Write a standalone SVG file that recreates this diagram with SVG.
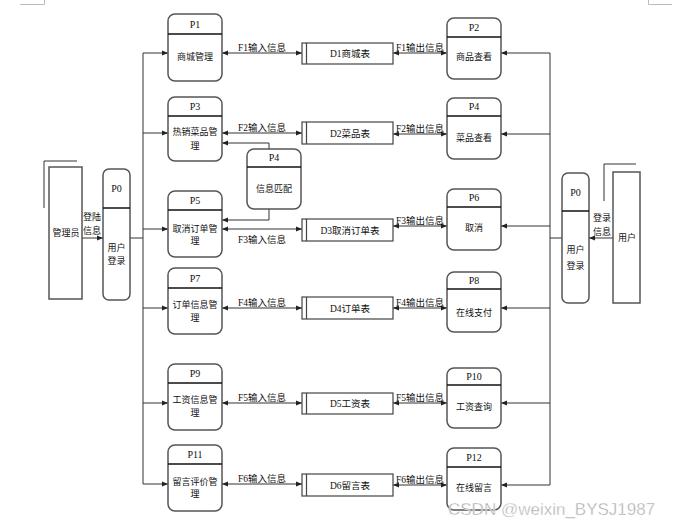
<svg xmlns="http://www.w3.org/2000/svg" width="688" height="526" viewBox="0 0 688 526">
<defs>
<marker id="ah" viewBox="0 0 6 6" refX="6" refY="3" markerWidth="6" markerHeight="6" orient="auto-start-reverse" markerUnits="userSpaceOnUse"><path d="M0,0.6 L6,3 L0,5.4 z" fill="#222"/></marker>
<style>
.pbox{fill:#fff;stroke:#555;stroke-width:1.5}
.div{stroke:#111;stroke-width:1.5}
.ds{fill:#fff;stroke:#444;stroke-width:1.2}
.ttl{font-family:"Liberation Serif","Noto Sans CJK SC",serif;font-size:10px;fill:#111;text-anchor:middle}
.cn{font-family:"Liberation Serif","Noto Sans CJK SC",serif;font-size:9px;fill:#111;text-anchor:middle}
.lbl{font-family:"Liberation Serif","Noto Sans CJK SC",serif;font-size:9.5px;fill:#111;text-anchor:middle}
.ln{fill:none;stroke:#333;stroke-width:1}
.arr{fill:none;stroke:#333;stroke-width:1;marker-end:url(#ah)}
.bi{fill:none;stroke:#333;stroke-width:1;marker-end:url(#ah);marker-start:url(#ah)}
.mark{fill:none;stroke:#bbb;stroke-width:1}
</style>
</defs>
<rect width="688" height="526" fill="#fff"/>
<path class="mark" d="M20,4.5 H44.5 V0"/>
<path class="mark" d="M648.5,0 V4.5 H672"/>

<g id="connectors">
<path class="ln" d="M143,53 V484"/>
<path class="arr" d="M143,53 H168"/>
<path class="arr" d="M143,133 H168"/>
<path class="arr" d="M143,229 H168"/>
<path class="arr" d="M143,308 H168"/>
<path class="arr" d="M143,403 H168"/>
<path class="arr" d="M143,484 H168"/>
<path class="ln" d="M130,238 H143"/>
<path class="arr" d="M82,238 H103"/>
<path class="ln" d="M550,53 V485"/>
<path class="arr" d="M550,53 H501"/>
<path class="arr" d="M550,134 H501"/>
<path class="arr" d="M550,226 H501"/>
<path class="arr" d="M550,308 H501"/>
<path class="arr" d="M550,403 H501"/>
<path class="arr" d="M550,485 H501"/>
<path class="ln" d="M562,238 H550"/>
<path class="arr" d="M613,238 H589"/>
<path class="bi" d="M222,53 H302"/>
<path class="bi" d="M393,53 H447"/>
<path class="bi" d="M222,133 H302"/>
<path class="bi" d="M393,134 H447"/>
<path class="bi" d="M222,229 H302"/>
<path class="bi" d="M393,226 H447"/>
<path class="bi" d="M222,308 H302"/>
<path class="bi" d="M393,308 H447"/>
<path class="bi" d="M222,403 H302"/>
<path class="bi" d="M393,403 H447"/>
<path class="bi" d="M222,484 H302"/>
<path class="bi" d="M393,485 H447"/>
<path class="arr" d="M269,149 V143 H222"/>
<path class="arr" d="M269,209 V220 H222"/>
<text class="lbl" x="262" y="51">F1输入信息</text>
<text class="lbl" x="420" y="51">F1输出信息</text>
<text class="lbl" x="262" y="131">F2输入信息</text>
<text class="lbl" x="420" y="132">F2输出信息</text>
<text class="lbl" x="262" y="243">F3输入信息</text>
<text class="lbl" x="420" y="224">F3输出信息</text>
<text class="lbl" x="262" y="306">F4输入信息</text>
<text class="lbl" x="420" y="306">F4输出信息</text>
<text class="lbl" x="262" y="401">F5输入信息</text>
<text class="lbl" x="420" y="401">F5输出信息</text>
<text class="lbl" x="262" y="482">F6输入信息</text>
<text class="lbl" x="420" y="483">F6输出信息</text>
<text class="cn" x="92" y="220">登陆</text>
<text class="cn" x="92" y="234">信息</text>
<text class="cn" x="602" y="221">登录</text>
<text class="cn" x="602" y="235">信息</text>
</g>

<g id="admin">
<path class="ln" d="M44,208 V161 H77" stroke="#222"/>
<rect x="49" y="167" width="33" height="132" fill="#fff" stroke="#555" stroke-width="1.5"/>
<text class="cn" x="66" y="236">管理员</text>
</g>
<g id="user">
<path class="ln" d="M604,201 V164 H636" stroke="#222"/>
<rect x="613" y="172" width="27" height="131" fill="#fff" stroke="#555" stroke-width="1.5"/>
<text class="cn" x="627" y="241">用户</text>
</g>

<g id="P0L">
<rect class="pbox" x="103" y="169" width="27" height="131" rx="6"/>
<line class="div" x1="103" y1="208" x2="130" y2="208"/>
<text class="ttl" x="116.5" y="192">P0</text>
<text class="cn" x="116.5" y="251">用户</text>
<text class="cn" x="116.5" y="264">登录</text>
</g>
<g id="P0R">
<rect class="pbox" x="562" y="173" width="27" height="130" rx="6"/>
<line class="div" x1="562" y1="211" x2="589" y2="211"/>
<text class="ttl" x="575.5" y="196">P0</text>
<text class="cn" x="575.5" y="253">用户</text>
<text class="cn" x="575.5" y="269">登录</text>
</g>

<g id="P1">
<rect class="pbox" x="168" y="14" width="54" height="67" rx="7"/>
<line class="div" x1="168" y1="34" x2="222" y2="34"/>
<text class="ttl" x="195" y="28">P1</text>
<text class="cn" x="195" y="60">商城管理</text>
</g>
<g id="P3">
<rect class="pbox" x="168" y="97" width="54" height="64" rx="7"/>
<line class="div" x1="168" y1="116" x2="222" y2="116"/>
<text class="ttl" x="195" y="110">P3</text>
<text class="cn" x="195" y="135">热销菜品管</text>
<text class="cn" x="195" y="149">理</text>
</g>
<g id="P5">
<rect class="pbox" x="168" y="191" width="54" height="66" rx="7"/>
<line class="div" x1="168" y1="210" x2="222" y2="210"/>
<text class="ttl" x="195" y="204">P5</text>
<text class="cn" x="195" y="232">取消订单管</text>
<text class="cn" x="195" y="244">理</text>
</g>
<g id="P7">
<rect class="pbox" x="168" y="268" width="54" height="66" rx="7"/>
<line class="div" x1="168" y1="288" x2="222" y2="288"/>
<text class="ttl" x="195" y="282">P7</text>
<text class="cn" x="195" y="308">订单信息管</text>
<text class="cn" x="195" y="321">理</text>
</g>
<g id="P9">
<rect class="pbox" x="168" y="364" width="54" height="66" rx="7"/>
<line class="div" x1="168" y1="383" x2="222" y2="383"/>
<text class="ttl" x="195" y="377">P9</text>
<text class="cn" x="195" y="403">工资信息管</text>
<text class="cn" x="195" y="416">理</text>
</g>
<g id="P11">
<rect class="pbox" x="168" y="445" width="54" height="66" rx="7"/>
<line class="div" x1="168" y1="464" x2="222" y2="464"/>
<text class="ttl" x="195" y="458">P11</text>
<text class="cn" x="195" y="485">留言评价管</text>
<text class="cn" x="195" y="497">理</text>
</g>
<g id="P4mid">
<rect class="pbox" x="247" y="149" width="54" height="60" rx="7"/>
<line class="div" x1="247" y1="167" x2="301" y2="167"/>
<text class="ttl" x="274" y="161">P4</text>
<text class="cn" x="274" y="192">信息匹配</text>
</g>

<g id="P2">
<rect class="pbox" x="447" y="18" width="54" height="61" rx="7"/>
<line class="div" x1="447" y1="37" x2="501" y2="37"/>
<text class="ttl" x="474" y="31">P2</text>
<text class="cn" x="474" y="60">商品查看</text>
</g>
<g id="P4">
<rect class="pbox" x="447" y="98" width="54" height="61" rx="7"/>
<line class="div" x1="447" y1="116" x2="501" y2="116"/>
<text class="ttl" x="474" y="110">P4</text>
<text class="cn" x="474" y="141">菜品查看</text>
</g>
<g id="P6">
<rect class="pbox" x="447" y="189" width="54" height="61" rx="7"/>
<line class="div" x1="447" y1="207" x2="501" y2="207"/>
<text class="ttl" x="474" y="201">P6</text>
<text class="cn" x="474" y="231">取消</text>
</g>
<g id="P8">
<rect class="pbox" x="447" y="272" width="54" height="60" rx="7"/>
<line class="div" x1="447" y1="289" x2="501" y2="289"/>
<text class="ttl" x="474" y="284">P8</text>
<text class="cn" x="474" y="316">在线支付</text>
</g>
<g id="P10">
<rect class="pbox" x="447" y="368" width="54" height="60" rx="7"/>
<line class="div" x1="447" y1="385" x2="501" y2="385"/>
<text class="ttl" x="474" y="380">P10</text>
<text class="cn" x="474" y="410">工资查询</text>
</g>
<g id="P12">
<rect class="pbox" x="447" y="448" width="54" height="62" rx="7"/>
<line class="div" x1="447" y1="467" x2="501" y2="467"/>
<text class="ttl" x="474" y="461">P12</text>
<text class="cn" x="474" y="491">在线留言</text>
</g>

<g id="D1"><rect class="ds" x="302" y="43" width="91" height="21"/><line class="ds" x1="306.5" y1="43" x2="306.5" y2="64"/><text class="lbl" x="350" y="57">D1商城表</text></g>
<g id="D2"><rect class="ds" x="302" y="122" width="91" height="22"/><line class="ds" x1="306.5" y1="122" x2="306.5" y2="144"/><text class="lbl" x="350" y="137">D2菜品表</text></g>
<g id="D3"><rect class="ds" x="302" y="219" width="91" height="22"/><line class="ds" x1="306.5" y1="219" x2="306.5" y2="241"/><text class="lbl" x="350" y="234">D3取消订单表</text></g>
<g id="D4"><rect class="ds" x="302" y="297" width="91" height="22"/><line class="ds" x1="306.5" y1="297" x2="306.5" y2="319"/><text class="lbl" x="350" y="312">D4订单表</text></g>
<g id="D5"><rect class="ds" x="302" y="393" width="91" height="21"/><line class="ds" x1="306.5" y1="393" x2="306.5" y2="414"/><text class="lbl" x="350" y="407">D5工资表</text></g>
<g id="D6"><rect class="ds" x="302" y="474" width="91" height="22"/><line class="ds" x1="306.5" y1="474" x2="306.5" y2="496"/><text class="lbl" x="350" y="489">D6留言表</text></g>

<text x="448" y="515" font-family="Liberation Sans, Arial, sans-serif" font-size="17" fill="#aaa" stroke="#fff" stroke-width="0.4">CSDN @weixin_BYSJ1987</text>
</svg>
